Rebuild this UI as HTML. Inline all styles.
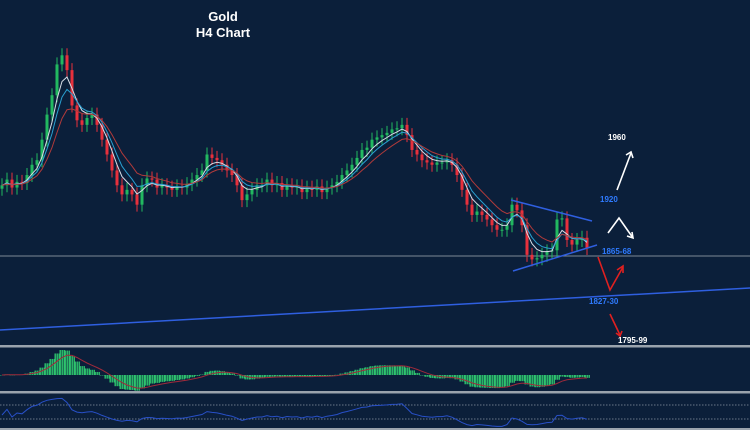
<!DOCTYPE html>
<html><head><meta charset="utf-8"><style>
html,body{margin:0;padding:0;background:#0b1f3a;}
svg{display:block;font-family:"Liberation Sans",sans-serif;}
</style></head><body>
<svg id="chart" width="750" height="430" viewBox="0 0 750 430" xmlns="http://www.w3.org/2000/svg">
<rect x="0" y="0" width="750" height="430" fill="#0b1f3a"/>
<text x="223" y="21" text-anchor="middle" fill="#fff" font-size="13" font-weight="bold">Gold</text>
<text x="223" y="37" text-anchor="middle" fill="#fff" font-size="13" font-weight="bold">H4 Chart</text>
<line x1="0" y1="256" x2="750" y2="256" stroke="#7d8896" stroke-width="1"/>
<line x1="0" y1="330" x2="750" y2="288" stroke="#2f5fe0" stroke-width="1.5"/>
<g id="candles"></g>
<g id="mas"></g>
<line x1="511" y1="200" x2="592" y2="221" stroke="#2f5fe0" stroke-width="1.5"/>
<line x1="513" y1="271" x2="597" y2="245" stroke="#2f5fe0" stroke-width="1.5"/>
<g fill="none" stroke-width="1.6">
<polyline points="617,190 631,153" stroke="#fff"/>
<polyline points="626,155 631,152 633,158" stroke="#fff"/>
<polyline points="608,233 619,218 633,238" stroke="#fff"/>
<polyline points="627,236 633,238 632,232" stroke="#fff"/>
<polyline points="598,257 610,290 623,267" stroke="#e02020"/>
<polyline points="617,270 623,266 623,273" stroke="#e02020"/>
<polyline points="610,314 620,335" stroke="#e02020"/>
<polyline points="616,333 620,336 622,331" stroke="#e02020"/>
</g>
<g font-size="8" font-weight="bold">
<text x="608" y="140" fill="#fff">1960</text>
<text x="600" y="202" fill="#2f7bff">1920</text>
<text x="602" y="254" fill="#2f7bff">1865-68</text>
<text x="589" y="304" fill="#2f7bff">1827-30</text>
<text x="618" y="343" fill="#fff">1795-99</text>
</g>
<rect x="0" y="345" width="750" height="2.5" fill="#9aa3ad"/>
<rect x="0" y="391" width="750" height="2.5" fill="#9aa3ad"/>
<rect x="0" y="428" width="750" height="2" fill="#9aa3ad"/>
<g id="macd"></g>
<line x1="0" y1="405" x2="750" y2="405" stroke="#8a95a3" stroke-dasharray="1.5,1.5" stroke-width="0.8"/>
<line x1="0" y1="419" x2="750" y2="419" stroke="#8a95a3" stroke-dasharray="1.5,1.5" stroke-width="0.8"/>
<g id="rsi"></g>
</svg>
<script>
const closes = [1924,1929,1922,1927,1926,1933,1942,1946,1964,1986,2003,2030,2038,2025,1994,1981,1977,1983,1986,1977,1964,1951,1937,1924,1916,1920,1916,1907,1924,1930,1929,1922,1924,1922,1920,1923,1922,1925,1929,1933,1937,1951,1948,1946,1942,1937,1933,1924,1911,1916,1920,1924,1924,1929,1924,1926,1920,1924,1922,1923,1918,1922,1920,1923,1918,1922,1924,1927,1933,1937,1942,1948,1955,1957,1964,1966,1968,1970,1973,1974,1977,1968,1955,1951,1946,1944,1942,1944,1944,1946,1942,1933,1920,1907,1898,1901,1898,1894,1889,1885,1885,1889,1907,1902,1889,1863,1859,1860,1863,1866,1867,1894,1895,1876,1872,1876,1878,1869];
const NS='http://www.w3.org/2000/svg';
const step=5, x0=2;
function xs(i){return x0+i*step;}
function yp(p){return (2086.5-p)/0.877;}
function mk(tag,attrs,parent){const e=document.createElementNS(NS,tag);for(const k in attrs)e.setAttribute(k,attrs[k]);parent.appendChild(e);return e;}
const cg=document.getElementById('candles');
closes.forEach((c,i)=>{
  const o=i?closes[i-1]:c-3;
  const up=c>=o;
  const col=up?'#22b860':'#e8303c';
  const top=yp(Math.max(o,c)), bot=yp(Math.min(o,c));
  const w=mk('line',{x1:xs(i),x2:xs(i),y1:top-7,y2:bot+7,stroke:col,'stroke-width':1},cg);
  
  
  const b=mk('rect',{x:xs(i)-1.5,y:top,width:3,height:Math.max(1,bot-top),fill:col},cg);
  
  
});
function ema(arr,n){const k=2/(n+1);let out=[],v=arr[0];arr.forEach(a=>{v=a*k+v*(1-k);out.push(v);});return out;}
const mg=document.getElementById('mas');
[[4,'#d8dde6'],[6,'#2a9fd0'],[10,'#b03a3a']].forEach(([n,col])=>{
  const m=ema(closes,n);
  const p=mk('polyline',{points:m.map((v,i)=>xs(i)+','+yp(v).toFixed(1)).join(' '),fill:'none',stroke:col,'stroke-width':1},mg);
  
  
});
// MACD
const e1=ema(closes,6),e2=ema(closes,13);
const macd=closes.map((_,i)=>e1[i]-e2[i]);
const sig=ema(macd,5);
const mx=Math.max(...macd.map(Math.abs));
const zero=375, sc=25/mx;
const md=document.getElementById('macd');
macd.forEach((v,i)=>{
  const y=zero-v*sc;
  for(let j=0;j<5;j+=2){
    const r=mk('rect',{x:xs(i)-2.5+j,y:Math.min(y,zero),width:1.4,height:Math.max(0.5,Math.abs(v*sc)),fill:'#2ec46e'},md);
    
    
  }
});
const sl=mk('polyline',{points:sig.map((v,i)=>xs(i)+','+(zero-v*sc).toFixed(1)).join(' '),fill:'none',stroke:'#a02a3a','stroke-width':1},md);


// RSI
let ag=0.5,al=0.5;const rsi=[];
closes.forEach((c,i)=>{const d=i?c-closes[i-1]:0;ag=(ag*13+Math.max(d,0))/14;al=(al*13+Math.max(-d,0))/14;rsi.push(100*ag/(ag+al));});
const rg=document.getElementById('rsi');
const rl=mk('polyline',{points:rsi.map((v,i)=>xs(i)+','+(434-v*0.38).toFixed(1)).join(' '),fill:'none',stroke:'#2850c8','stroke-width':1},rg);


</script>
</body></html>
